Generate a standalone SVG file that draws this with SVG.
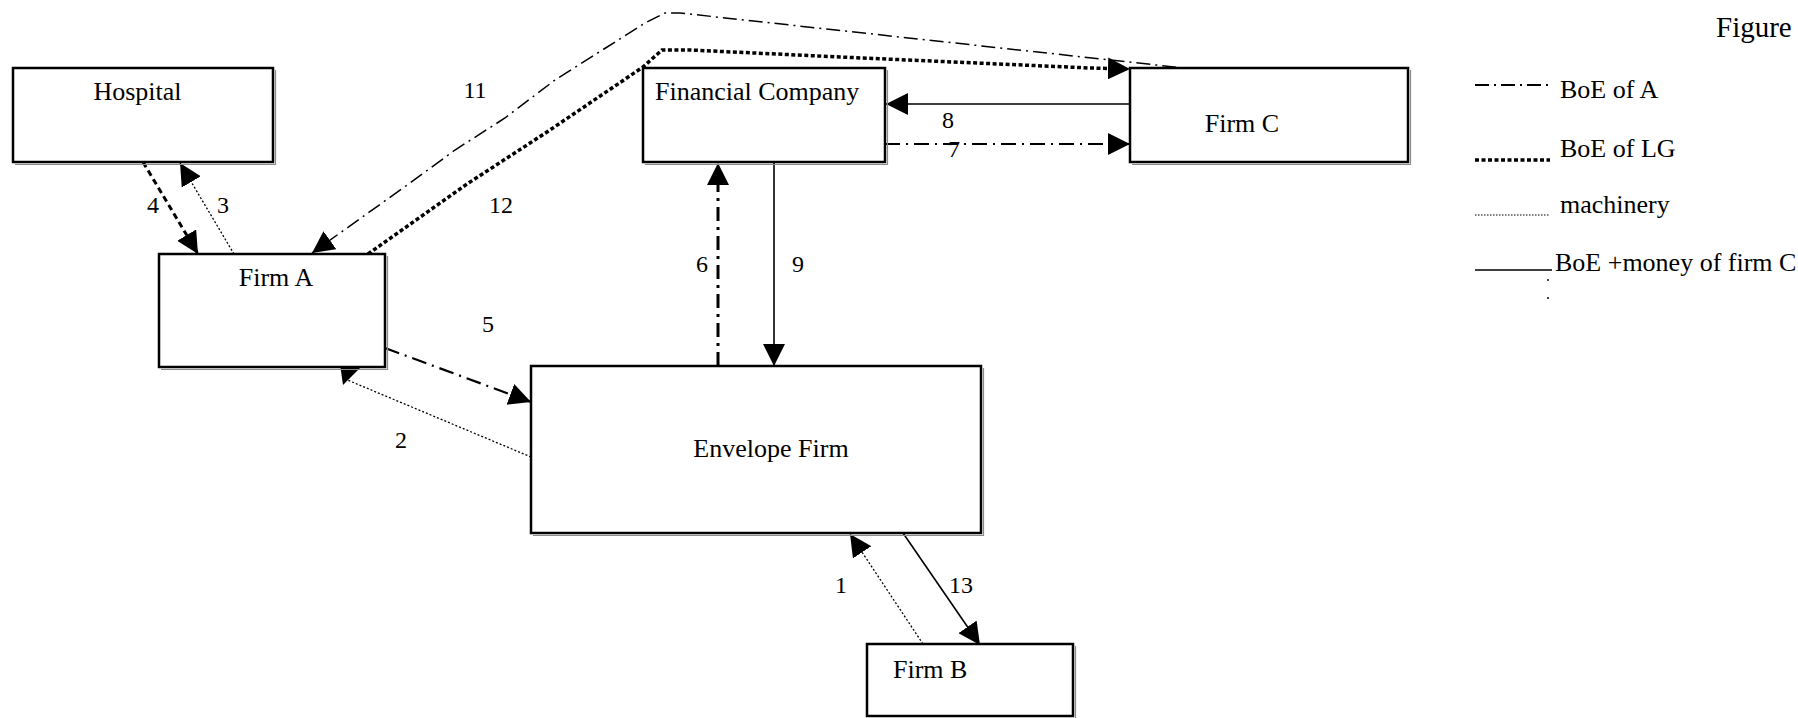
<svg xmlns="http://www.w3.org/2000/svg" width="1798" height="718" viewBox="0 0 1798 718">
<style>
  .box { fill: #ffffff; stroke: #000000; stroke-width: 2.5; }
  .shadow { fill: none; stroke: #8a8a8a; stroke-width: 1.2; }
  .lbl { font-family: "Liberation Serif", "Times New Roman", serif; font-size: 26px; fill: #000000; }
  .num { font-family: "Liberation Serif", "Times New Roman", serif; font-size: 24px; fill: #000000; text-anchor: middle; }
  .fig { font-family: "Liberation Serif", "Times New Roman", serif; font-size: 29px; fill: #000000; }
  .line { fill: none; stroke: #000000; }
  .boeA { stroke-width: 1.5; stroke-dasharray: 14 5 2 5; }
  .boeA2 { stroke-width: 2.2; stroke-dasharray: 15 6 2 6; }
  .boeA3 { stroke-width: 3; stroke-dasharray: 14 6 3 6; }
  .lg { stroke-width: 3.5; stroke-dasharray: 4 2.5; }
  .lg2 { stroke-width: 3; stroke-dasharray: 6 4; }
  .mach { stroke-width: 1.3; stroke-dasharray: 2 2; }
  .money { stroke-width: 1.6; }
</style>
<defs>
  <marker id="ah" markerUnits="userSpaceOnUse" markerWidth="22" markerHeight="22" viewBox="0 0 20 20" refX="20" refY="10" orient="auto">
    <path d="M0,0 L20,10 L0,20 z" fill="#000000"/>
  </marker>
</defs>
<rect width="1798" height="718" fill="#ffffff"/>

<g id="connectors">
  <!-- 1 machinery: Firm B -> Envelope -->
  <path class="line mach" d="M923,644 L850,534" marker-end="url(#ah)"/>
  <!-- 2 machinery: Envelope -> Firm A -->
  <path class="line mach" d="M531,457 L345,379 L343,385" marker-end="url(#ah)"/>
  <!-- 3 machinery: Firm A -> Hospital -->
  <path class="line mach" d="M234,254 L180,163" marker-end="url(#ah)"/>
  <!-- 4 BoE of LG: Hospital -> Firm A -->
  <path class="line lg2" d="M143,162 L198,254" marker-end="url(#ah)"/>
  <!-- 5 BoE of A: Firm A -> Envelope -->
  <path class="line boeA2" d="M385,348 L531,402" marker-end="url(#ah)"/>
  <!-- 6 BoE of A: Envelope -> Financial -->
  <path class="line boeA3" d="M718,366 L718,163" marker-end="url(#ah)"/>
  <!-- 7 BoE of A: Financial -> Firm C -->
  <path class="line boeA2" d="M885,144 L1130,144" marker-end="url(#ah)"/>
  <!-- 8 solid: Firm C -> Financial -->
  <path class="line money" d="M1130,104 L886,104" marker-end="url(#ah)"/>
  <!-- 9 solid: Financial -> Envelope -->
  <path class="line money" d="M774,162 L774,366" marker-end="url(#ah)"/>
  <!-- 11 BoE of A: Firm C -> Firm A -->
  <path class="line boeA" d="M1202,70 L680,13 L665,13 L645,23 L555,80 L505,118 L455,150 L410,183 L312,253" marker-end="url(#ah)"/>
  <!-- 12 BoE of LG: Firm A -> Firm C -->
  <path class="line lg" d="M368,254 L467,184 L547,132 L643,67 L662,50 L690,50 L840,57 L1090,68 L1130,69" marker-end="url(#ah)"/>
  <!-- 13 solid: Envelope -> Firm B -->
  <path class="line money" d="M903,533 L980,645" marker-end="url(#ah)"/>

  <text class="num" x="841" y="593">1</text>
  <text class="num" x="401" y="448">2</text>
  <text class="num" x="223" y="213">3</text>
  <text class="num" x="153" y="213">4</text>
  <text class="num" x="488" y="332">5</text>
  <text class="num" x="702" y="272">6</text>
  <text class="num" x="954" y="157">7</text>
  <text class="num" x="948" y="128">8</text>
  <text class="num" x="798" y="272">9</text>
  <text class="num" x="475" y="98">11</text>
  <text class="num" x="501" y="213">12</text>
  <text class="num" x="961" y="593">13</text>
</g>

<g id="hospital">
  <rect class="box" x="13" y="68" width="260" height="94"/>
  <polyline class="shadow" points="275.5,70 275.5,164.5 15,164.5"/>
  <text class="lbl" x="137.5" y="100" text-anchor="middle">Hospital</text>
</g>

<g id="firm-a">
  <rect class="box" x="159" y="254" width="226" height="113"/>
  <polyline class="shadow" points="387.5,256 387.5,369.5 161,369.5"/>
  <text class="lbl" x="276" y="286" text-anchor="middle">Firm A</text>
</g>

<g id="financial-company">
  <rect class="box" x="643" y="68" width="242" height="94"/>
  <polyline class="shadow" points="887.5,70 887.5,164.5 645,164.5"/>
  <text class="lbl" x="655" y="100">Financial Company</text>
</g>

<g id="firm-c">
  <rect class="box" x="1130" y="68" width="278" height="94"/>
  <polyline class="shadow" points="1410.5,70 1410.5,164.5 1132,164.5"/>
  <text class="lbl" x="1242" y="132" text-anchor="middle">Firm C</text>
</g>

<g id="envelope-firm">
  <rect class="box" x="531" y="366" width="450" height="167"/>
  <polyline class="shadow" points="983.5,368 983.5,535.5 533,535.5"/>
  <text class="lbl" x="771" y="457" text-anchor="middle">Envelope Firm</text>
</g>

<g id="firm-b">
  <rect class="box" x="867" y="644" width="206" height="72"/>
  <polyline class="shadow" points="1075.5,646 1075.5,718"/>
  <text class="lbl" x="893" y="678">Firm B</text>
</g>

<g id="legend">
  <text class="fig" x="1716" y="37">Figure</text>
  <line class="line boeA" x1="1475" y1="85" x2="1550" y2="85" style="stroke-width:2"/>
  <text class="lbl" x="1560" y="98">BoE of A</text>
  <line class="line lg" x1="1475" y1="160" x2="1550" y2="160"/>
  <text class="lbl" x="1560" y="157">BoE of LG</text>
  <line class="line mach" x1="1475" y1="215" x2="1550" y2="215" style="stroke-width:1.1;stroke-dasharray:1.5 1.5"/>
  <text class="lbl" x="1560" y="213">machinery</text>
  <line class="line money" x1="1475" y1="270" x2="1552" y2="270"/>
  <text class="lbl" x="1555" y="271">BoE +money of firm C</text>
  <circle cx="1548" cy="280" r="1" fill="#000000"/>
  <circle cx="1548" cy="298" r="1" fill="#000000"/>
</g>
</svg>
